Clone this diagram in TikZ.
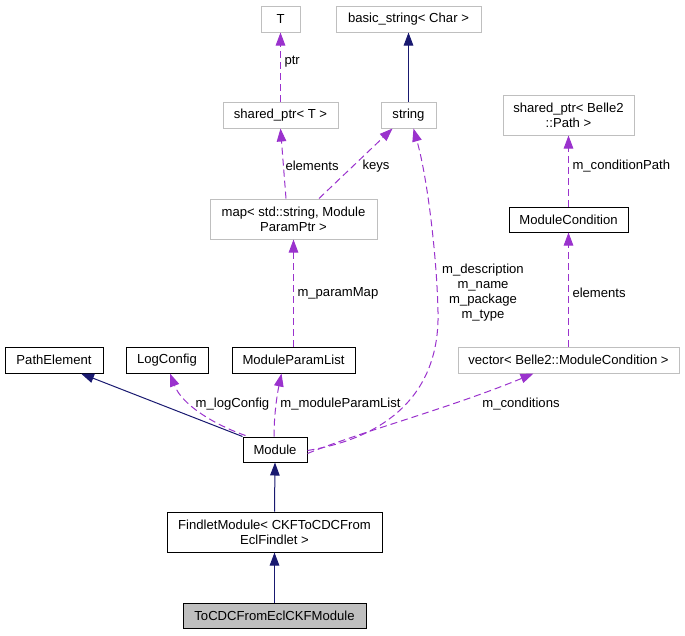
\documentclass[tikz,border=0pt]{standalone}
\usepackage{fontspec}
\setmainfont{Liberation Sans}
\usetikzlibrary{arrows.meta,calc}
\definecolor{navyc}{RGB}{25,25,112}
\definecolor{purp}{RGB}{154,50,205}
\definecolor{boxgray}{RGB}{191,191,191}
\begin{document}
\begin{tikzpicture}[x=1pt,y=-1pt,
  box/.style={draw=black,line width=1pt,rectangle,inner sep=0pt,font=\fontsize{13.1}{15}\selectfont,align=center},
  gbox/.style={box,draw=boxgray},
  inh/.style={draw=navyc,line width=1pt,-{Triangle[length=13pt,width=9.5pt]}},
  use/.style={draw=purp,line width=1pt,dash pattern=on 7pt off 4pt,-{Triangle[length=13pt,width=9.5pt]}},
  lbl/.style={font=\fontsize{13.1}{15}\selectfont,inner sep=0pt,align=center,text=black}]
\useasboundingbox (0,0) rectangle (685,635);
% nodes
\node[gbox,minimum width=39pt,minimum height=26pt] (T) at (280.5,19) {T};
\node[gbox,minimum width=145pt,minimum height=26pt] (basic) at (408.5,19) {basic\_string< Char >};
\node[gbox,minimum width=115pt,minimum height=26pt] (sptrT) at (280.5,115) {shared\_ptr< T >};
\node[gbox,minimum width=55pt,minimum height=26pt] (string) at (408.5,115) {string};
\node[gbox,minimum width=167pt,minimum height=40pt] (map) at (293.5,219) {map< std::string, Module\\ParamPtr >};
\node[gbox,minimum width=131pt,minimum height=40pt] (sptrP) at (568.5,115) {shared\_ptr< Belle2\\::Path >};
\node[box,minimum width=119pt,minimum height=25pt] (MC) at (568.5,219.5) {ModuleCondition};
\node[box,minimum width=98pt,minimum height=26pt] (PE) at (54,360) {PathElement};
\node[box,minimum width=82pt,minimum height=26pt] (LC) at (167,360) {LogConfig};
\node[box,minimum width=123pt,minimum height=26pt] (MPL) at (293.5,360) {ModuleParamList};
\node[gbox,minimum width=221pt,minimum height=26pt] (vec) at (568.5,360) {vector< Belle2::ModuleCondition >};
\node[box,minimum width=64pt,minimum height=25pt] (Module) at (275,449.5) {Module};
\node[box,minimum width=215pt,minimum height=40pt] (FM) at (274.5,532) {FindletModule< CKFToCDCFrom\\EclFindlet >};
\node[box,fill=boxgray,minimum width=183pt,minimum height=25pt] (ToCDC) at (274.5,615.5) {ToCDCFromEclCKFModule};
% inheritance edges
\draw[inh] (string.north) -- (basic.south);
\draw[inh] (Module.north west) -- ([xshift=27pt]PE.south);
\draw[inh] (FM.north) -- (Module.south);
\draw[inh] (ToCDC.north) -- (FM.south);
% usage edges
\draw[use] (sptrT.north) -- (T.south) node[lbl,anchor=west,at={(284,62)}] {ptr};
\draw[use] ([xshift=-7.5pt]map.north) -- (sptrT.south) node[lbl,anchor=west,at={(285,166)}] {elements};
\draw[use] ([xshift=25.5pt]map.north) -- ([xshift=-16pt]string.south) node[lbl,anchor=west,at={(362,166)}] {keys};
\draw[use] (MPL.north) -- (map.south) node[lbl,anchor=west,at={(297,293)}] {m\_paramMap};
\draw[use] (vec.north) -- (MC.south) node[lbl,anchor=west,at={(572,293)}] {elements};
\draw[use] (MC.north) -- (sptrP.south) node[lbl,anchor=west,at={(572,166)}] {m\_conditionPath};
\draw[use] ([yshift=-1pt]Module.east) .. controls (385,438) and (440,395) .. (438,312)
  .. controls (437,260) and (428,180) .. ([xshift=5pt]string.south)
  node[lbl,at={(483,293)}] {m\_description\\m\_name\\m\_package\\m\_type};
\draw[use] ([yshift=-4pt]Module.east) .. controls (360,432) and (450,408) .. ([xshift=-35pt]vec.south)
  node[lbl,at={(521,404)}] {m\_conditions};
\draw[use] ([xshift=3pt,yshift=1pt]Module.north west) .. controls (215,425) and (182,405) .. ([xshift=3pt]LC.south)
  node[lbl,at={(232.5,404)}] {m\_logConfig};
\draw[use] ([xshift=-1pt]Module.north) .. controls (274,415) and (277,395) .. ([xshift=-12pt]MPL.south)
  node[lbl,at={(340.5,404)}] {m\_moduleParamList};
\end{tikzpicture}
\end{document}
